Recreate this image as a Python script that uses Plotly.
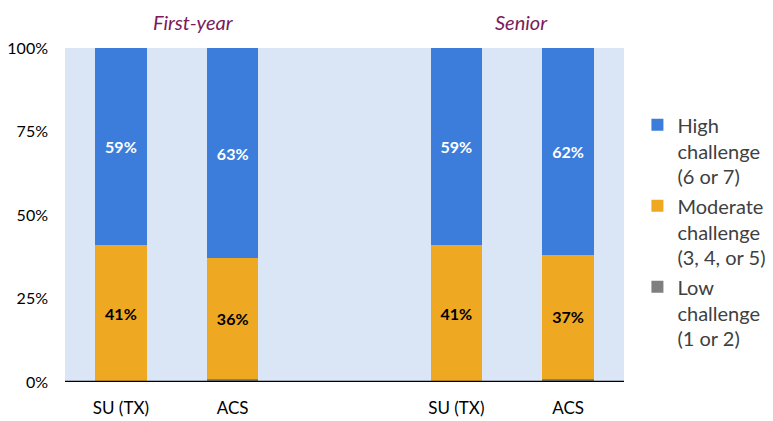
import plotly.graph_objs as go

# bar slots: two groups with an empty slot between them
positions = [0, 1, 3, 4]
bar_labels = ["SU (TX)", "ACS", "SU (TX)", "ACS"]

low = [0, 1, 0, 1]
moderate = [41, 36, 41, 37]
high = [59, 63, 59, 62]

group_names = ["First-year", "Senior"]

font_name = "Lato"

fig = go.Figure()

fig.add_trace(go.Bar(
    x=positions, y=low,
    name="Low<br>challenge<br>(1 or 2)",
    marker=dict(color="#7f7f7f", line=dict(width=0)),
    width=0.46,
    hoverinfo="none"
))

fig.add_trace(go.Bar(
    x=positions, y=moderate,
    name="Moderate<br>challenge<br>(3, 4, or 5)",
    marker=dict(color="#eea822", line=dict(width=0)),
    width=0.46,
    text=[f"{v}%" for v in moderate],
    textposition="inside",
    insidetextanchor="middle",
    textfont=dict(color="black", size=16, family=font_name, weight="bold"),
    hoverinfo="none"
))

fig.add_trace(go.Bar(
    x=positions, y=high,
    name="High<br>challenge<br>(6 or 7)",
    marker=dict(color="#3c7ddb", line=dict(width=0)),
    width=0.46,
    text=[f"{v}%" for v in high],
    textposition="inside",
    insidetextanchor="middle",
    textfont=dict(color="white", size=16, family=font_name, weight="bold"),
    hoverinfo="none"
))

# group headings sit a little right of the group centres, as in the original
for name, cx in zip(group_names, [0.65, 3.58]):
    fig.add_annotation(
        x=cx, y=1.0, xref="x", yref="paper",
        yanchor="bottom", yshift=12,
        text=f"<i>{name}</i>",
        showarrow=False,
        font=dict(size=20, color="#7a1b5c", family=font_name)
    )

# the page body adds 8px around the figure, so size and margins allow for that
fig.update_layout(
    barmode="stack",
    width=765, height=413,
    margin=dict(l=57, r=149, t=40, b=39, autoexpand=False),
    paper_bgcolor="white",
    plot_bgcolor="#dae5f6",
    font=dict(family=font_name, size=16, color="black"),
    uniformtext=dict(mode="show", minsize=10),
    legend=dict(
        x=1.024, y=0.45, xanchor="left", yanchor="middle",
        traceorder="reversed",
        font=dict(size=20, color="#404040"),
        valign="top",
        itemsizing="constant",
        tracegroupgap=11
    ),
    xaxis=dict(
        range=[-0.5, 4.5],
        tickvals=positions,
        ticktext=bar_labels,
        showgrid=False,
        zeroline=False,
        showline=False,
        ticks="",
        automargin=False,
        ticklabelstandoff=14,
        tickfont=dict(size=17)
    ),
    yaxis=dict(
        range=[0, 100],
        tickvals=[0, 25, 50, 75, 100],
        ticktext=["0%", "25%", "50%", "75%", "100%"],
        showgrid=False,
        zeroline=False,
        showline=False,
        ticks="",
        automargin=False,
        ticklabelstandoff=16,
        tickfont=dict(size=16)
    )
)

# baseline under the bars
fig.add_shape(
    type="line", xref="paper", yref="y",
    x0=0, x1=1, y0=0, y1=0,
    line=dict(color="black", width=2.5)
)

fig.write_html("out.html")
